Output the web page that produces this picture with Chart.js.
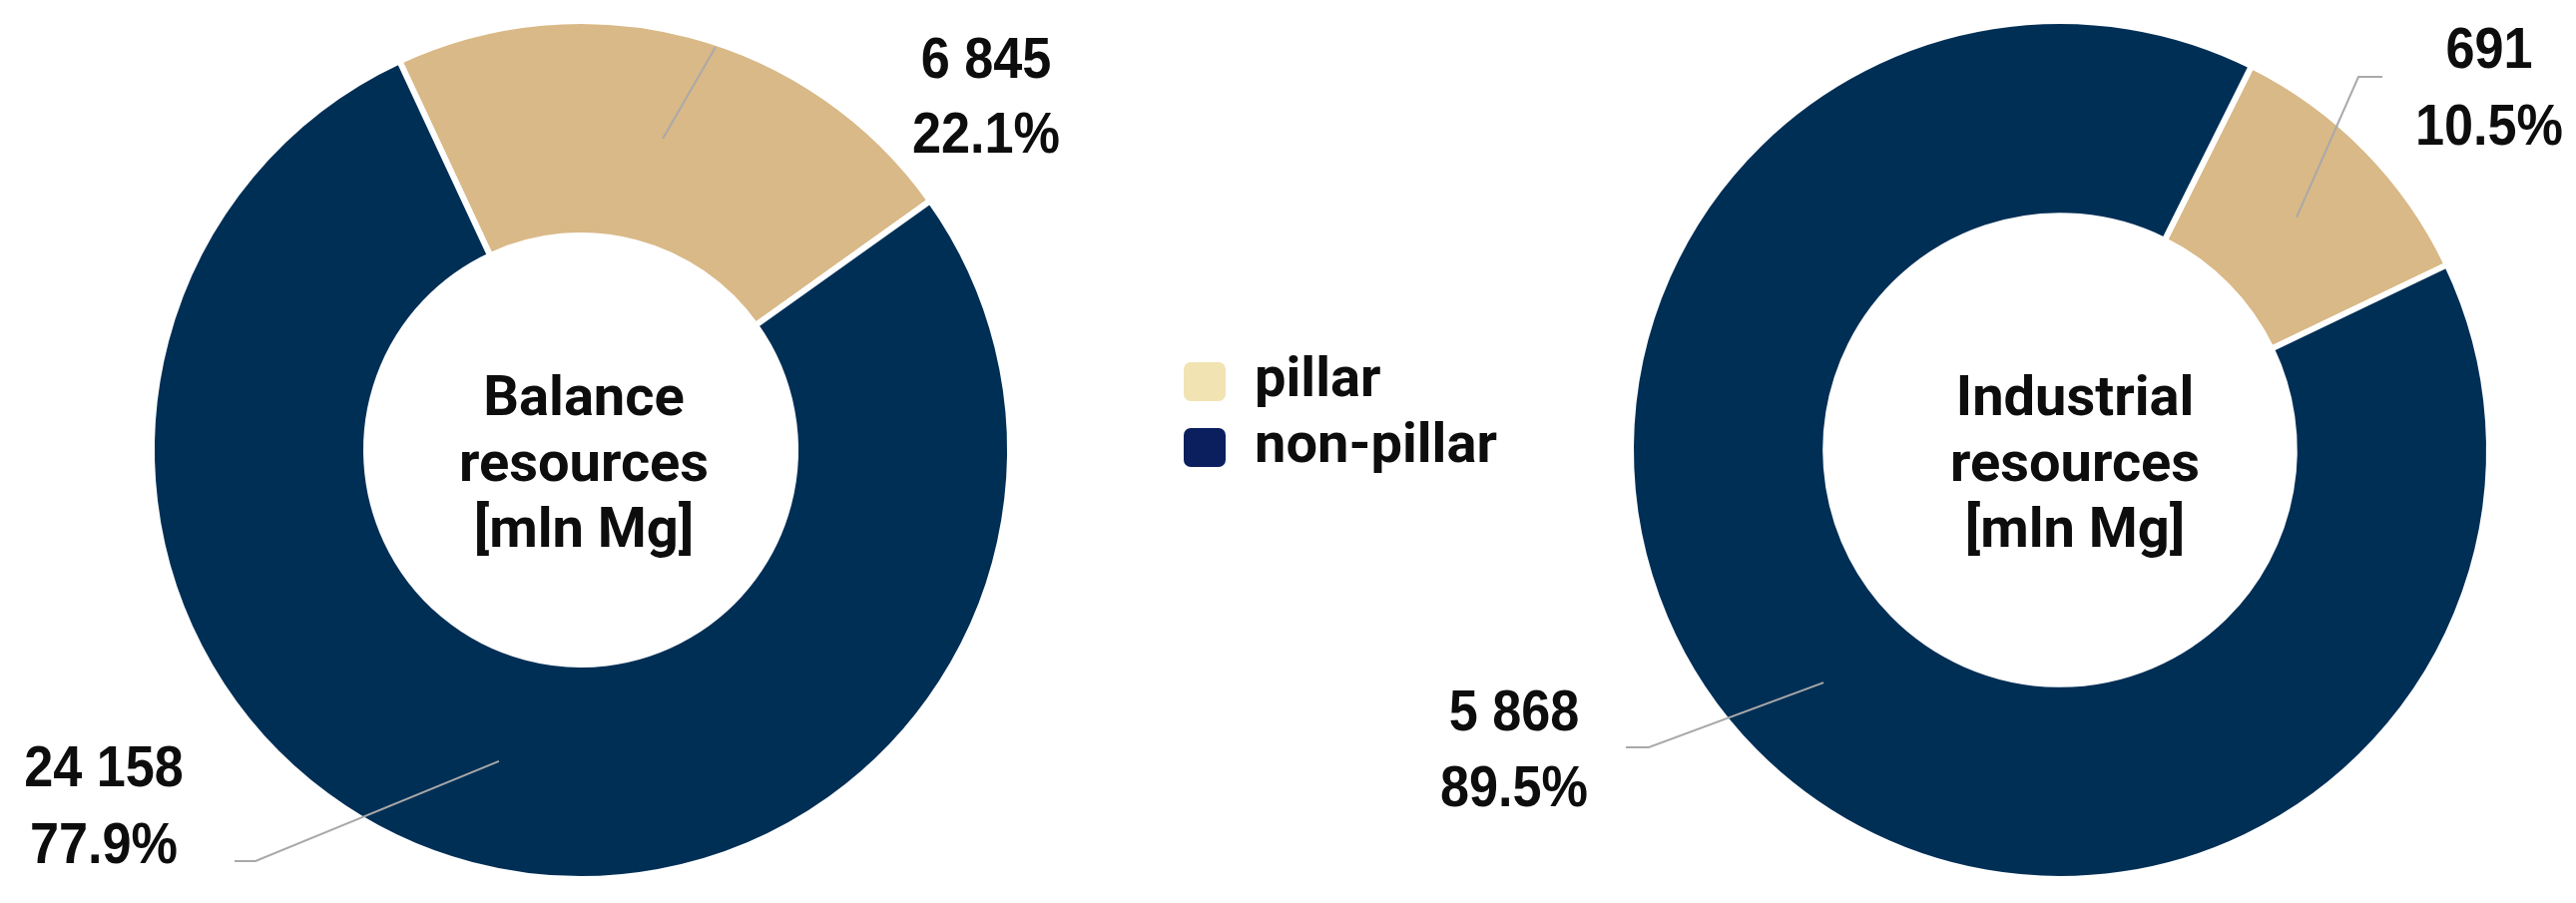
<!DOCTYPE html>
<html><head><meta charset="utf-8">
<script src="https://cdn.jsdelivr.net/npm/chart.js@4.4.0/dist/chart.umd.min.js"></script>
<style>
html,body{margin:0;padding:0;background:#fff;}
#wrap{position:relative;width:2581px;height:905px;overflow:hidden;background:#fff;}
canvas{position:absolute;left:0;top:0;}
</style></head><body>
<div id="wrap">
<canvas id="c1" width="2581" height="905"></canvas>
<canvas id="c2" width="2581" height="905"></canvas>
</div>
<script>
// ---- data ----
const categories = ['pillar', 'non-pillar'];
const balanceValues = [6845, 24158];      // mln Mg
const industrialValues = [691, 5868];     // mln Mg
const balanceTitle = ['Balance', 'resources', '[mln Mg]'];
const industrialTitle = ['Industrial', 'resources', '[mln Mg]'];

// ---- styles ----
const sliceColors = ['#D9B987', '#002F56'];
const legendColors = ['#F2E3B3', '#0B1F5E'];
const labelFont = "bold 58px 'Liberation Sans', Arial, sans-serif";
const titleFont = "bold 56px Roboto, sans-serif";
const leaderColor = '#A9A9A9';

function fmt(v) { return String(v).replace(/\B(?=(\d{3})+(?!\d))/g, ' '); }

function condensedText(ctx, text, x, y) {
  ctx.save();
  ctx.translate(x, y);
  ctx.scale(0.9, 1);
  ctx.fillText(text, 0, 0);
  ctx.restore();
}

const leaderLabels = {
  id: 'leaderLabels',
  afterDatasetsDraw(chart, args, opts) {
    const ctx = chart.ctx;
    const meta = chart.getDatasetMeta(0);
    const data = chart.data.datasets[0].data;
    const total = data.reduce((a, b) => a + b, 0);
    meta.data.forEach((arc, i) => {
      const p = arc.getProps(['x', 'y', 'startAngle', 'endAngle', 'innerRadius', 'outerRadius'], true);
      const cfg = opts.items[i];
      const mid = (p.startAngle + p.endAngle) / 2;
      const r = (p.innerRadius + p.outerRadius) / 2;
      ctx.save();
      ctx.strokeStyle = leaderColor;
      ctx.lineWidth = 2;
      ctx.beginPath();
      ctx.moveTo(p.x + Math.cos(mid) * r, p.y + Math.sin(mid) * r);
      cfg.line.forEach(pt => ctx.lineTo(p.x + pt[0], p.y + pt[1]));
      ctx.stroke();
      ctx.fillStyle = '#0d0d0d';
      ctx.font = labelFont;
      ctx.textAlign = 'center';
      ctx.textBaseline = 'alphabetic';
      condensedText(ctx, fmt(data[i]), p.x + cfg.dx, p.y + cfg.dy[0]);
      condensedText(ctx, (data[i] / total * 100).toFixed(1) + '%', p.x + cfg.dx, p.y + cfg.dy[1]);
      ctx.restore();
    });
  }
};

const centerTitle = {
  id: 'centerTitle',
  afterDatasetsDraw(chart, args, opts) {
    const ctx = chart.ctx;
    const arc = chart.getDatasetMeta(0).data[0];
    const cx = arc.x, cy = arc.y;
    ctx.save();
    ctx.fillStyle = '#0d0d0d';
    ctx.font = titleFont;
    ctx.textAlign = 'center';
    ctx.textBaseline = 'alphabetic';
    opts.lines.forEach((t, i) => ctx.fillText(t, cx + opts.dx, cy + opts.dy[i]));
    ctx.restore();
  }
};

const sideLegend = {
  id: 'sideLegend',
  afterDraw(chart, args, opts) {
    if (!opts.show) return;
    const ctx = chart.ctx;
    ctx.save();
    chart.data.labels.forEach((lab, i) => {
      const y = opts.y + i * opts.step;
      ctx.fillStyle = legendColors[i];
      ctx.beginPath();
      if (ctx.roundRect) ctx.roundRect(opts.x, y, 42, 39, 7); else ctx.rect(opts.x, y, 42, 39);
      ctx.fill();
      ctx.fillStyle = '#0d0d0d';
      ctx.font = titleFont;
      ctx.textAlign = 'left';
      ctx.textBaseline = 'alphabetic';
      ctx.fillText(lab, opts.x + 71, y + 34);
    });
    ctx.restore();
  }
};

function makeChart(id, values, title, rotation, cutout, padding, items, titleDx, showLegend) {
  return new Chart(document.getElementById(id), {
    type: 'doughnut',
    data: {
      labels: categories,
      datasets: [{
        data: values,
        backgroundColor: sliceColors,
        borderColor: '#ffffff',
        borderWidth: 6
      }]
    },
    options: {
      responsive: false,
      animation: false,
      devicePixelRatio: 1,
      rotation: rotation,
      cutout: cutout,
      radius: 430,
      layout: { padding: padding },
      plugins: {
        legend: { display: false },
        tooltip: { enabled: false },
        leaderLabels: { items: items },
        centerTitle: { lines: title, dx: titleDx, dy: [-35, 31, 97] },
        sideLegend: { show: showLegend, x: 1186, y: 363, step: 66 }
      }
    },
    plugins: [leaderLabels, centerTitle, sideLegend]
  });
}

makeChart('c1', balanceValues, balanceTitle, -25, '50%',
  { left: 0, right: 1417, top: 0, bottom: 3 },
  [
    { line: [[135, -404]], dx: 406, dy: [-373, -298] },
    { line: [[-326, 412], [-347, 412]], dx: -478, dy: [337, 414] }
  ], 3, true);

makeChart('c2', industrialValues, industrialTitle, 26.5, '54.6%',
  { left: 1547, right: 0, top: 0, bottom: 3 },
  [
    { line: [[299, -374], [323, -374]], dx: 430, dy: [-383, -306] },
    { line: [[-412, 298], [-435, 298]], dx: -547, dy: [281, 357] }
  ], 15, false);
</script>
</body></html>
